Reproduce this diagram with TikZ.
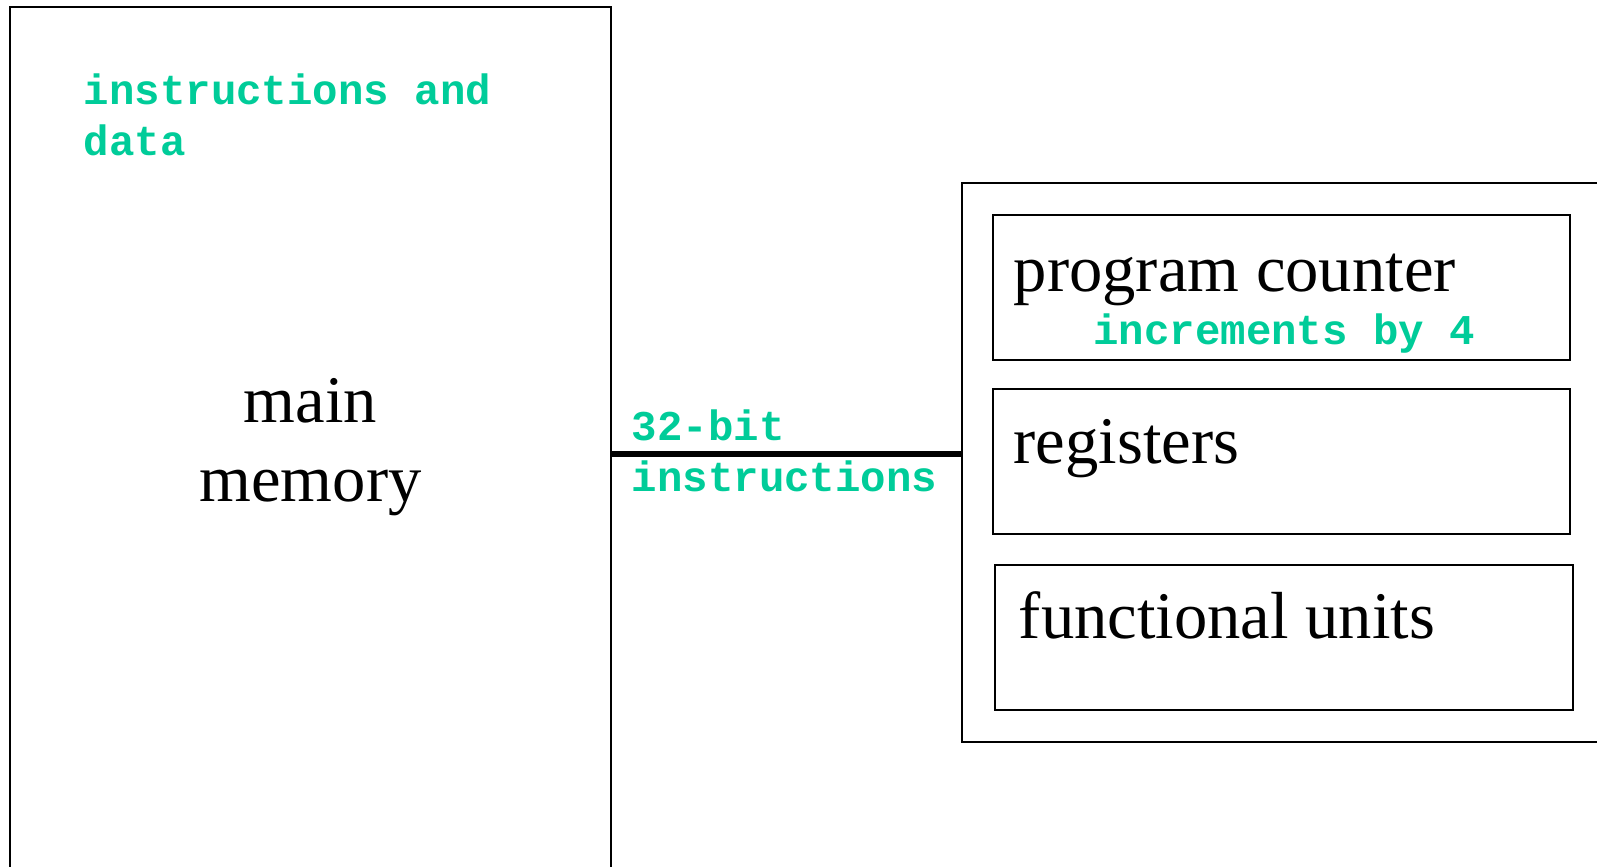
\documentclass[tikz,border=0pt]{standalone}
\usepackage{fontspec}
\setmainfont{Liberation Serif}
\newfontfamily\codefont{Liberation Mono}
\definecolor{notegreen}{RGB}{0,204,153}
\newcommand{\bigserif}{\fontsize{33.3pt}{39.75pt}\selectfont}
\tikzset{
  unit/.style={rectangle, draw, line width=0.8pt, inner sep=0pt},
  note/.style={font={\codefont\bfseries\fontsize{21.2pt}{25.5pt}\selectfont},
    color=notegreen, inner sep=0pt, anchor=base west, align=left},
  unitname/.style={font=\bigserif, inner sep=0pt, anchor=base west},
  bus/.style={line width=3pt}
}
\begin{document}
\begin{tikzpicture}[x=0.5pt, y=-0.5pt]
        \useasboundingbox (0,0) rectangle (1597,867);
        \clip (0,0) rectangle (1597,867);

        \node[unit,
        minimum width = 300.5pt,
        minimum height = 440pt,
        align=center,
        font=\bigserif,
        ] (mem) at (310.5,447) {main\\memory};
        \node[unit,
        minimum width = 339pt,
        minimum height = 279.5pt,
        ] (cpu) at (1301,462.5) {};
        \node[unit,
        minimum width = 288.5pt,
        minimum height = 72.5pt,
        ] (pc) at (1281.5,287.5) {};
        \node[unit,
        minimum width = 288.5pt,
        minimum height = 72.5pt,
        ] (reg) at (1281.5,461.5) {};
        \node[unit,
        minimum width = 289pt,
        minimum height = 72.5pt,
        ] (fu) at (1284,637.5) {};

        \node[note] (memnote) at (83.5,155) {instructions and\\data};
        \node[note] (busnote) at (631.5,491) {32-bit\\instructions};
        \node[unitname] (pcname) at (1013.4,291) {program counter};
        \node[note] (pcnote) at (1093,344) {increments by 4};
        \node[unitname] (regname) at (1013.4,463) {registers};
        \node[unitname] (funame) at (1018.5,638.6) {functional units};

        \draw[bus] ([yshift=-3.5pt]mem.east) -- ([yshift=-3.5pt]mem.east -| cpu.west);

    \end{tikzpicture}
\end{document}
